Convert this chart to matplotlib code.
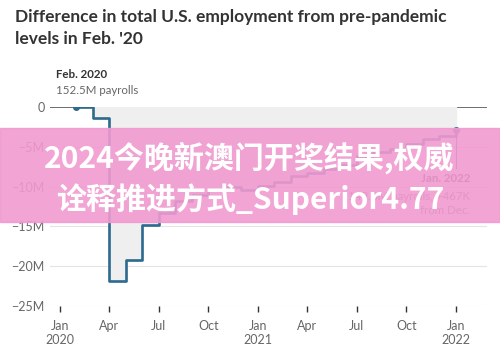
import matplotlib
matplotlib.use('Agg')
import matplotlib.pyplot as plt

# Monthly change vs Feb 2020 level, millions of jobs (Feb 2020 .. Jan 2022)
months = list(range(1, 25))   # 0 = Jan 2020
diff_m = [0.0, -1.4, -21.9, -19.2, -14.8, -13.3, -11.8, -11.1, -10.4, -10.1, -10.4,
          -9.9, -9.4, -8.6, -8.3, -7.8, -7.3, -6.2, -5.7, -5.3, -4.6, -4.0, -3.6, -2.9]

x_ticks = [0, 3, 6, 9, 12, 15, 18, 21, 24]
x_labels = ['Jan\n2020', 'Apr', 'Jul', 'Oct', 'Jan\n2021', 'Apr', 'Jul', 'Oct', 'Jan\n2022']
y_ticks = [0, -5, -10, -15, -20, -25]
y_labels = ['0', '\u22125M', '\u221210M', '\u221215M', '\u221220M', '\u221225M']

blue = '#2c6a8e'
grey_txt = '#666666'

plt.rcParams['font.family'] = ['Lato', 'DejaVu Sans']

fig = plt.figure(figsize=(5, 3.58), dpi=100)
ax = fig.add_axes([0.1, 0.145, 0.874, 0.556])

ax.set_xlim(-0.6, 25.9)
ax.set_ylim(-25, 0)

for y in y_ticks[1:]:
    ax.axhline(y, color='#e4e4e4', lw=0.8, zorder=0)
ax.axhline(0, color='#555555', lw=1.2, zorder=1)

ax.fill_between(months, diff_m, 0, step='post', color='#efefef', zorder=1)
ax.step(months, diff_m, where='post', color=blue, lw=1.9, zorder=3)
ax.plot([months[0], months[-1]], [diff_m[0], diff_m[-1]], 'o', color=blue, ms=4, zorder=4)

# leader line for the last point
ax.plot([months[-1], months[-1]], [diff_m[-1], -7.6], color=blue, lw=0.8, zorder=2)

ax.set_xticks(x_ticks)
ax.set_xticklabels(x_labels)
ax.set_yticks(y_ticks)
ax.set_yticklabels(y_labels)
ax.tick_params(axis='x', length=4, width=1, color='#333333', labelsize=9,
               labelcolor=grey_txt, pad=6)
ax.tick_params(axis='y', length=0, labelsize=9, labelcolor=grey_txt, pad=4)
for s in ax.spines.values():
    s.set_visible(False)

# titles and annotations
fig.text(0.03, 1 - 17 / 358, 'Difference in total U.S. employment from pre-pandemic',
         fontsize=12.5, fontweight='bold', color='#333333', va='center')
fig.text(0.03, 1 - 39 / 358, "levels in Feb. '20", fontsize=12.5, fontweight='bold',
         color='#333333', va='center')
fig.text(0.112, 1 - 75 / 358, 'Feb. 2020', fontsize=8.3, fontweight='bold', color='#333333',
         va='center')
fig.text(0.112, 1 - 91 / 358, '152.5M payrolls', fontsize=8.3, color=grey_txt, va='center')

fig.text(0.94, 1 - 179 / 358, 'Jan. 2022', fontsize=8.3, fontweight='bold',
         color='#333333', va='center', ha='right')
fig.text(0.94, 1 - 196 / 358, '149.6M payrolls, +467K', fontsize=8.3, color=grey_txt,
         va='center', ha='right')
fig.text(0.94, 1 - 210 / 358, 'from Dec.', fontsize=8.3, color=grey_txt,
         va='center', ha='right')

# pink overlay banner
fig.patches.append(plt.Rectangle((0, 1 - 222 / 358), 1, 94 / 358, transform=fig.transFigure,
                                 color='#f19ad0', alpha=0.9, zorder=10))
cjk = ['Noto Sans CJK SC', 'DejaVu Sans']
fig.text(0.498, 1 - 158 / 358, '2024今晚新澳门开奖结果,权威', fontsize=21.6, fontweight='bold',
         color='white', ha='center', va='center', family=cjk, zorder=11)
fig.text(0.112, 1 - 199 / 358, '诠释推进方式_Superior4.77', fontsize=21.6, fontweight='bold',
         color='white', ha='left', va='center', family=cjk, zorder=11)

fig.savefig('out.png', dpi=100)
